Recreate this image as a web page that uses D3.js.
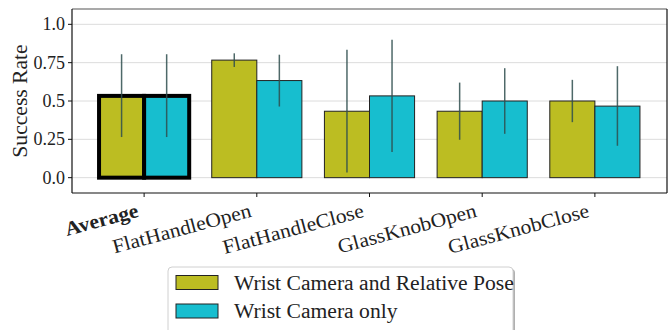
<!DOCTYPE html>
<html><head><meta charset="utf-8">
<script src="https://cdn.jsdelivr.net/npm/d3@7"></script>
<style>
html,body{margin:0;padding:0;background:#fff;}
</style></head>
<body><svg id="c" width="668" height="330" font-family="'Liberation Serif', 'DejaVu Serif', serif"></svg>
<script>
const categories = ["Average","FlatHandleOpen","FlatHandleClose","GlassKnobOpen","GlassKnobClose"];
const seriesNames = ["Wrist Camera and Relative Pose","Wrist Camera only"];
const poseValues = [0.5333, 0.7667, 0.4333, 0.4333, 0.5];
const poseLow    = [0.265, 0.722, 0.033, 0.247, 0.362];
const poseHigh   = [0.805, 0.811, 0.835, 0.620, 0.638];
const wristValues = [0.5333, 0.6333, 0.5333, 0.5, 0.4667];
const wristLow    = [0.265, 0.464, 0.167, 0.286, 0.208];
const wristHigh   = [0.805, 0.802, 0.900, 0.714, 0.727];
const yTicks = [0, 0.25, 0.5, 0.75, 1.0];
const yTickLabels = ["0.0","0.25","0.5","0.75","1.0"];
const colors = ["#bcbd22","#17becf"];

const svg = d3.select("#c");
const M = {l:72, r:667, t:9, b:193};
const x = d3.scaleLinear().domain([-0.64, 4.64]).range([M.l, M.r]);
const y = d3.scaleLinear().domain([-0.1, 1.1]).range([M.b, M.t]);
const bw = 0.4;
const FONT = "Liberation Serif";
function stretch(sel, k){ sel.each(function(){ const w=this.getComputedTextLength(); d3.select(this).attr("textLength", w*k).attr("lengthAdjust","spacingAndGlyphs"); }); }

// grid
svg.append("g").selectAll("line").data(yTicks).join("line")
  .attr("x1", M.l).attr("x2", M.r).attr("y1", d=>y(d)).attr("y2", d=>y(d))
  .attr("stroke", "#dcdcdc").attr("stroke-width", 1);

const series = [
  {vals: poseValues, lo: poseLow, hi: poseHigh, off: -bw/2, color: colors[0]},
  {vals: wristValues, lo: wristLow, hi: wristHigh, off: bw/2, color: colors[1]}
];

series.forEach(s => {
  const g = svg.append("g");
  g.selectAll("rect").data(s.vals).join("rect")
    .attr("x", (d,i)=>x(i + s.off - bw/2))
    .attr("width", x(bw) - x(0))
    .attr("y", d=>y(d)).attr("height", d=>y(0)-y(d))
    .attr("fill", s.color)
    .attr("stroke", (d,i)=> i===0 ? "#000" : "#222")
    .attr("stroke-width", (d,i)=> i===0 ? 4 : 1);
});
series.forEach(s => {
  svg.append("g").selectAll("line").data(s.vals).join("line")
    .attr("x1",(d,i)=>x(i+s.off)).attr("x2",(d,i)=>x(i+s.off))
    .attr("y1",(d,i)=>y(s.lo[i])).attr("y2",(d,i)=>y(s.hi[i]))
    .attr("stroke","#2f4f4f").attr("stroke-opacity",0.85).attr("stroke-width",1.5);
});

// spines
svg.append("line").attr("x1",M.l).attr("x2",M.r).attr("y1",M.t).attr("y2",M.t).attr("stroke","#555").attr("stroke-width",1.2);
svg.append("line").attr("x1",M.r).attr("x2",M.r).attr("y1",M.t).attr("y2",M.b).attr("stroke","#111").attr("stroke-width",1.2);
svg.append("line").attr("x1",M.l).attr("x2",M.l).attr("y1",M.t).attr("y2",M.b).attr("stroke","#111").attr("stroke-width",1.2);
svg.append("line").attr("x1",M.l).attr("x2",M.r).attr("y1",M.b).attr("y2",M.b).attr("stroke","#111").attr("stroke-width",1.2);

// y ticks
const yg = svg.append("g");
yg.selectAll("line").data(yTicks).join("line")
  .attr("x1",M.l-4).attr("x2",M.l).attr("y1",d=>y(d)).attr("y2",d=>y(d)).attr("stroke","#111");
yg.selectAll("text").data(yTicks).join("text")
  .attr("x",M.l-7).attr("y",d=>y(d)).attr("dy","0.34em")
  .attr("text-anchor","end").attr("font-size",18).attr("font-family",FONT).attr("fill","#222")
  .text((d,i)=>yTickLabels[i]);

// x ticks
const xg = svg.append("g");
xg.selectAll("line").data(categories).join("line")
  .attr("x1",(d,i)=>x(i)).attr("x2",(d,i)=>x(i)).attr("y1",M.b).attr("y2",M.b+4).attr("stroke","#111");
xg.selectAll("text").data(categories).join("text")
  .attr("text-anchor","end").attr("font-size",20).attr("font-family",FONT).attr("fill","#222")
  .attr("font-weight",(d,i)=>i===0?"bold":"normal")
  .attr("transform",(d,i)=>`translate(${x(i)-4.5},${M.b+23.5}) rotate(-15)`)
  .text(d=>d)
  .call(stretch, 1.08);

// y label
svg.append("text").attr("transform",`translate(27,${(M.t+M.b)/2}) rotate(-90)`)
  .attr("text-anchor","middle").attr("font-size",20).attr("font-family",FONT).attr("fill","#222").text("Success Rate")
  .call(stretch, 1.08);

// legend
const lg = svg.append("g");
lg.append("rect").attr("x",170).attr("y",269).attr("width",345).attr("height",80).attr("rx",4).attr("fill","#b0b0b0");
lg.append("rect").attr("x",168).attr("y",267).attr("width",345).attr("height",80).attr("rx",4)
  .attr("fill","#fff").attr("stroke","#d0d0d0");
const rowY = [282.5, 311];
seriesNames.forEach((n,i)=>{
  lg.append("rect").attr("x",176).attr("y",rowY[i]-7).attr("width",42).attr("height",14)
    .attr("fill",colors[i]).attr("stroke","#222").attr("stroke-width",1);
  lg.append("text").attr("x",234).attr("y",rowY[i]).attr("dy","0.35em").attr("font-size",20)
    .attr("font-family",FONT).attr("fill","#222").text(n)
    .call(stretch, 1.08);
});
</script></body></html>
